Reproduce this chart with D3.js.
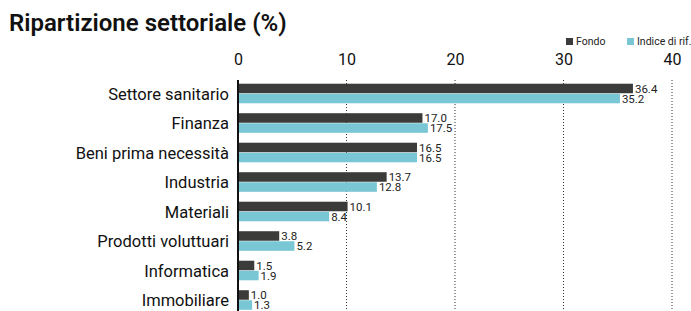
<!DOCTYPE html>
<html>
<head>
<meta charset="utf-8">
<script src="https://cdn.jsdelivr.net/npm/d3@7"></script>
<style>
  body { margin: 0; background: #fff; }
  svg { display: block; font-family: Roboto, "Liberation Sans", sans-serif; }
</style>
</head>
<body>
<div id="chart"></div>
<script>
// data
const categories = ['Settore sanitario', 'Finanza', 'Beni prima necessità', 'Industria',
    'Materiali', 'Prodotti voluttuari', 'Informatica', 'Immobiliare'];
const fondo = [36.4, 17.0, 16.5, 13.7, 10.1, 3.8, 1.5, 1.0];
const indice = [35.2, 17.5, 16.5, 12.8, 8.4, 5.2, 1.9, 1.3];
const seriesNames = ['Fondo', 'Indice di rif.'];
const tickValues = [0, 10, 20, 30, 40];

const width = 691, height = 311;
const colors = { Fondo: '#3b3b39', 'Indice di rif.': '#79c6d5' };

const svg = d3.select('#chart').append('svg')
    .attr('width', width)
    .attr('height', height);

const x = d3.scaleLinear().domain([0, 40]).range([238, 672]);
const y = d3.scaleBand().domain(categories).range([79, 315]).paddingInner(0.32).paddingOuter(0.16);
const sub = d3.scaleBand().domain(seriesNames).range([0, y.bandwidth()]);

// title
svg.append('text')
    .attr('x', 9).attr('y', 31)
    .attr('font-size', 24).attr('font-weight', 600)
    .attr('fill', '#111')
    .text('Ripartizione settoriale (%)');

// legend
seriesNames.forEach((name, i) => {
    const g = svg.append('g').attr('transform', `translate(${i === 0 ? 566 : 627},38)`);
    g.append('rect').attr('width', 7).attr('height', 7).attr('fill', colors[name]);
    g.append('text').attr('x', 10).attr('y', 7)
        .attr('font-size', 10.5).attr('fill', '#222').text(name);
});

// gridlines
svg.append('g').selectAll('line')
    .data(tickValues.filter(d => d > 0))
    .join('line')
    .attr('x1', d => x(d)).attr('x2', d => x(d))
    .attr('y1', 80).attr('y2', height)
    .attr('stroke', '#333').attr('stroke-width', 1)
    .attr('stroke-dasharray', '1,2');

// top tick labels
const axis = d3.axisTop(x).tickValues(tickValues).tickSize(0).tickPadding(0);
const ax = svg.append('g').attr('transform', 'translate(0,65)').call(axis);
ax.select('.domain').remove();
ax.selectAll('text').attr('font-size', 16).attr('fill', '#111')
    .attr('font-family', 'Roboto, sans-serif');

// bars
const rows = svg.append('g').selectAll('g')
    .data(categories)
    .join('g')
    .attr('transform', d => `translate(0,${y(d)})`);

const series = [fondo, indice];
seriesNames.forEach((name, s) => {
    rows.append('rect')
        .attr('x', x(0))
        .attr('y', sub(name))
        .attr('width', (d, i) => x(series[s][i]) - x(0))
        .attr('height', sub.bandwidth() - 0.5)
        .attr('fill', colors[name]);
    rows.append('text')
        .attr('x', (d, i) => x(series[s][i]) + 2)
        .attr('y', sub(name) + sub.bandwidth() - 1)
        .attr('font-size', 11.5)
        .attr('fill', '#222')
        .text((d, i) => series[s][i].toFixed(1));
});

// category labels
rows.append('text')
    .attr('x', 229)
    .attr('y', y.bandwidth() / 2)
    .attr('dy', '0.35em')
    .attr('text-anchor', 'end')
    .attr('font-size', 16.5)
    .attr('fill', '#111')
    .text(d => d);

// axis line at zero
svg.append('line')
    .attr('x1', x(0)).attr('x2', x(0))
    .attr('y1', 80).attr('y2', height)
    .attr('stroke', '#111').attr('stroke-width', 2);
</script>
</body>
</html>
